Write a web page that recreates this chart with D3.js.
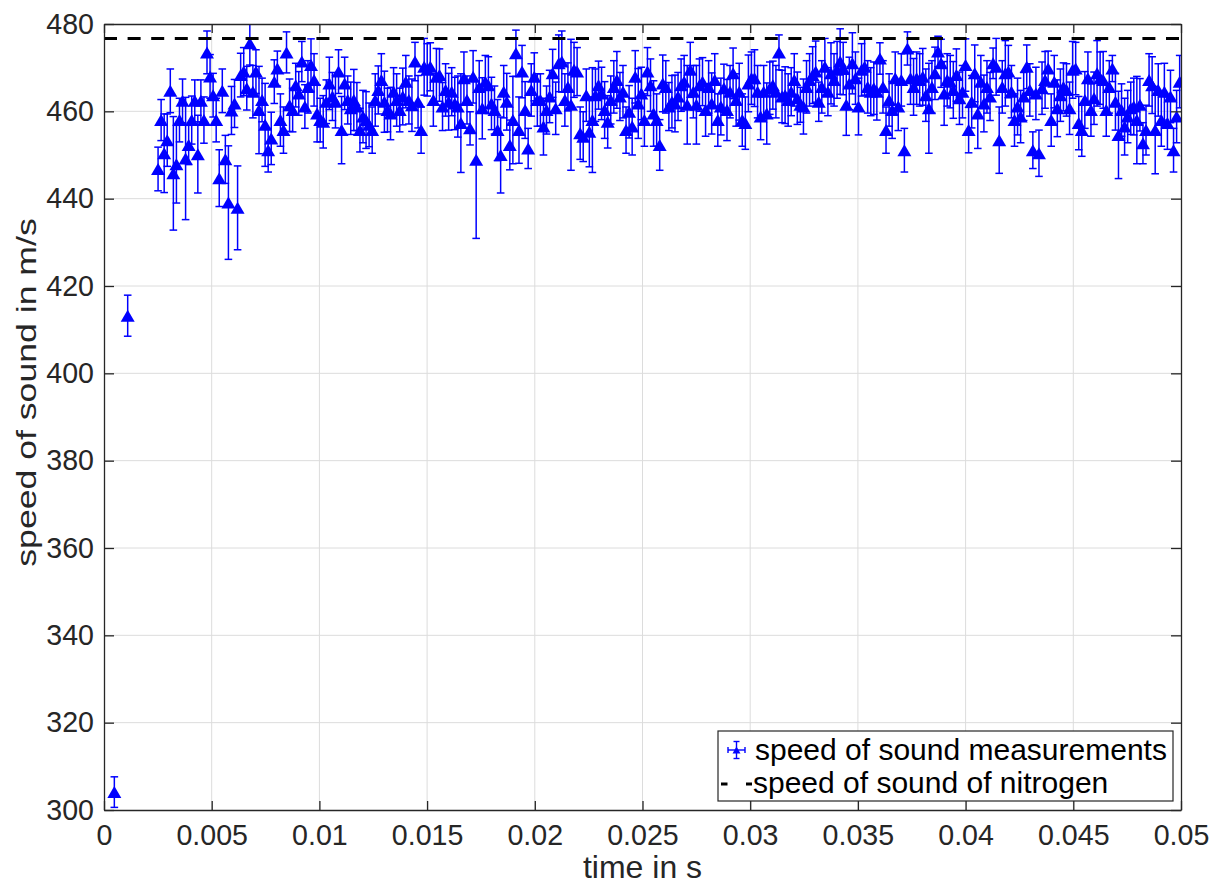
<!DOCTYPE html>
<html>
<head>
<meta charset="utf-8">
<script src="https://cdn.jsdelivr.net/npm/d3@7"></script>
<style>
html,body{margin:0;padding:0;background:#fff;}
svg{display:block;}
text{font-family:"Liberation Sans", Arial, Helvetica, sans-serif;}
</style>
</head>
<body>
<svg id="chart" width="1219" height="886"></svg>
<script>
// ---------------- data ----------------
const xDomain = [0, 0.05];
const yDomain = [300, 480];
const xTicks = [0, 0.005, 0.01, 0.015, 0.02, 0.025, 0.03, 0.035, 0.04, 0.045, 0.05];
const xTickLabels = ["0", "0.005", "0.01", "0.015", "0.02", "0.025", "0.03", "0.035", "0.04", "0.045", "0.05"];
const yTicks = [300, 320, 340, 360, 380, 400, 420, 440, 460, 480];
const yTickLabels = ["300", "320", "340", "360", "380", "400", "420", "440", "460", "480"];

const xLabel = "time in s";
const yLabel = "speed of sound in m/s";
const legendLabels = ["speed of sound measurements", "speed of sound of nitrogen"];

// first two (start-up) measurements
const earlyTimes = [0.00048, 0.0011];
const earlySpeeds = [304.1, 413.2];
const earlyErrors = [3.5, 4.7];

// regularly sampled measurements
const sampleStart = 0.00251;
const sampleStep = 0.000142;
const speeds = [
  446.8, 458.0, 450.4, 453.4, 464.7, 445.8, 447.9, 458.0, 462.4, 449.2,
  452.3, 458.0, 462.4, 450.2, 462.4, 458.0, 473.5, 468.0, 463.7, 458.0,
  444.7, 464.7, 449.0, 439.1, 460.2, 461.8, 437.9, 468.3, 469.1, 465.3,
  475.6, 464.5, 469.1, 460.3, 462.6, 456.9, 451.1, 453.8, 466.8, 469.8,
  458.0, 455.7, 473.5, 461.4, 460.3, 466.0, 464.1, 471.4, 461.1, 465.6,
  470.6, 467.2, 459.5, 458.0, 457.6, 462.2,

  466.4, 463.4, 462.2, 469.1, 455.7, 466.4, 462.6, 460.7, 462.6, 461.1,
  455.7, 458.8, 458.0, 456.9, 455.7, 462.6, 464.9, 467.2, 462.2, 460.3,
  459.5, 464.5, 462.6, 460.3, 463.4, 466.8, 462.6, 461.4, 471.4, 462.2,
  455.7, 470.2, 469.5, 470.2, 462.6, 467.9, 468.3, 461.1, 464.9, 462.2,
  464.5, 461.8, 461.1, 457.3, 467.6, 462.6, 456.1, 467.9, 448.9, 465.6,
  460.7, 466.8, 466.0, 461.8, 460.3, 455.7, 450.0, 464.5, 462.2, 452.3,
  458.0, 473.3, 455.7, 469.1, 460.3, 451.5, 464.9, 467.9, 462.6,

  462.6, 456.5, 460.3, 463.4, 468.7, 460.7, 471.0, 471.4, 462.6, 465.6,
  461.5, 469.5, 469.1, 455.0, 454.2, 463.7, 455.3, 458.0, 463.7, 466.0,
  464.1, 460.3, 457.6, 462.6, 465.6, 467.2, 463.4, 464.5, 455.7, 459.9,
  456.5, 467.9, 461.8, 464.1, 458.0, 469.1, 466.0, 459.5, 458.0, 452.3,
  466.4, 465.6, 461.1, 462.2, 461.8, 463.4, 466.0, 466.8, 461.5, 469.5,
  464.5, 461.5, 466.0, 466.8, 460.3, 465.6, 461.8, 467.2, 458.0, 461.1,
  465.3, 460.3, 464.5, 468.7, 462.6, 464.5, 458.0, 457.3, 466.4,

  467.6, 467.6, 464.5, 458.8, 464.5, 459.5, 465.3, 466.0, 464.5, 473.5,
  463.4, 463.7, 462.6, 464.5, 467.2, 463.0, 461.5, 461.1, 465.6, 467.2,
  468.3, 469.1, 462.2, 465.6, 470.2, 464.5, 468.7, 467.2, 469.5, 471.4,
  469.8, 461.5, 466.4, 471.0, 467.6, 461.1, 469.5, 470.2, 465.6, 464.5,
  465.3, 464.5, 472.1, 465.6, 455.7, 462.6, 460.3, 467.6, 461.1, 467.2,
  451.1, 474.4, 467.6, 465.6, 467.6, 467.2, 467.9, 463.7, 460.7, 465.6,
  468.7, 473.7, 471.0, 464.1, 467.2, 466.8, 464.9, 468.3, 463.0,

  464.5, 470.6, 455.7, 462.2, 468.7, 459.5, 466.8, 461.8, 465.6, 463.4,
  471.0, 470.2, 453.4, 465.6, 468.7, 469.1, 464.5, 458.0, 461.1, 458.8,
  463.4, 470.2, 464.9, 451.1, 464.1, 450.4, 465.3, 467.2, 469.8, 458.0,
  466.8, 460.7, 463.7, 465.6, 464.9, 460.7, 469.5, 469.8, 457.3, 455.7,
  462.6, 467.6, 460.3, 463.0, 468.7, 467.6, 467.2, 460.3, 465.6, 469.8,
  462.2, 454.6, 460.3, 456.5, 458.8, 460.7, 461.1, 458.0, 461.5, 452.7,
  455.7, 467.2, 466.0, 455.7, 464.9, 458.0, 464.5, 457.3, 463.4, 451.1,
  458.8, 466.8
];
const speedErrors = [
  5, 4.7, 9, 6, 5, 13, 8.9, 5, 5, 14,
  4.5, 5.5, 4.8, 8.9, 4.8, 5.3, 4.9, 5, 5, 5,
  6.5, 5, 5.5, 13, 5.5, 5.5, 9.6, 5, 5.5, 5,
  5, 6, 5, 10, 5, 9.5, 5, 6, 5, 4,
  6, 5.3, 4.7, 6, 5, 5, 5, 4.6, 5, 6,
  6, 6, 6.5, 5, 6, 5,

  6, 5.5, 6, 5, 7.7, 6, 5.5, 6, 7, 5.5,
  5, 6, 6.5, 5, 5.3, 6, 5.5, 6, 7, 5,
  6, 5.5, 6, 5, 6.5, 6, 5.5, 6, 4.4, 6,
  5.3, 6.5, 6, 5.5, 6, 6.5, 6, 5.5, 6, 6.5,
  5.5, 6, 7, 11.3, 6, 5.5, 3.8, 6, 18, 6,
  7, 6, 6.5, 6, 5.5, 7, 8.7, 6, 6.5, 5.7,
  10, 5.3, 7.6, 6, 6.5, 4.6, 6, 5.5, 6,

  6, 6.5, 5.5, 6, 5.5, 6, 6.5, 7, 6, 5.5,
  15, 6.3, 5.5, 6, 5.7, 6, 8, 12, 6, 5.5,
  6, 6.5, 6, 5.5, 6, 6.5, 5.5, 6, 5.3, 6,
  6.5, 6, 8, 6, 6, 5.5, 6, 7.5, 6, 5.8,
  6.5, 6, 5.5, 6, 6.5, 5.5, 6, 6, 9, 6.3,
  6, 9, 6, 5.5, 6, 6, 7, 6, 6, 6.5,
  5.5, 7, 6, 5.8, 6, 6.5, 6, 6, 6.5,

  6, 6.5, 6, 5.3, 6, 7, 6, 5.5, 6, 4,
  6, 6.5, 6, 5.5, 6, 6, 4, 6.3, 6, 6,
  6.5, 7, 4.5, 6, 6.5, 5.5, 7, 6, 6.5, 7.5,
  6, 7, 6, 7, 6, 6.5, 6, 6.5, 6, 5.5,
  6, 6.5, 3.6, 6, 5.3, 6, 6.5, 6, 5.5, 6,
  5, 3.8, 6, 6.5, 6, 6, 6.5, 6, 10.3, 6,
  6, 3.5, 5.5, 7.3, 6, 6, 6.5, 6, 6,

  6, 6, 5.2, 6, 6.5, 8, 6, 6.5, 6, 5.5,
  3.5, 6.5, 7.6, 6, 7.5, 6, 6, 6, 6.5, 6,
  5.5, 5, 6, 4.2, 6, 5.3, 6, 6.5, 4, 6,
  6, 6.5, 6, 5.5, 6, 6, 6.5, 6, 6.1, 6,
  6.5, 6, 6, 6, 7.5, 6, 6.5, 6, 6, 3,
  6.5, 10, 6, 6.5, 6, 6, 6.5, 10, 6, 4.7,
  5.7, 6, 6.5, 10, 6, 6, 6.5, 6, 6, 5,
  6, 6
];

const nitrogenSpeed = 476.7;

// ---------------- drawing ----------------
const FONT = '"Liberation Sans", Arial, Helvetica, sans-serif';
const AX = '#262626';
const BLUE = '#0000ff';
const plot = {left: 104, top: 24, right: 1181, bottom: 810};

const svg = d3.select('#chart');
svg.append('rect').attr('width', 1219).attr('height', 886).attr('fill', '#fff');

const x = d3.scaleLinear().domain(xDomain).range([plot.left, plot.right]);
const y = d3.scaleLinear().domain(yDomain).range([plot.bottom, plot.top]);

svg.append('defs').append('clipPath').attr('id', 'clip')
  .append('rect').attr('x', plot.left).attr('y', plot.top)
  .attr('width', plot.right - plot.left).attr('height', plot.bottom - plot.top);

// grid
const grid = svg.append('g').attr('stroke', '#dcdcdc').attr('stroke-width', 1);
grid.selectAll('line.gx').data(xTicks.slice(1, -1)).join('line').attr('class', 'gx')
  .attr('x1', d => x(d)).attr('x2', d => x(d)).attr('y1', plot.top).attr('y2', plot.bottom);
grid.selectAll('line.gy').data(yTicks.slice(1, -1)).join('line').attr('class', 'gy')
  .attr('y1', d => y(d)).attr('y2', d => y(d)).attr('x1', plot.left).attr('x2', plot.right);

// data points
const points = earlyTimes.map((t, i) => ({t: t, v: earlySpeeds[i], e: earlyErrors[i]}))
  .concat(speeds.map((v, i) => ({t: sampleStart + i * sampleStep, v: v, e: speedErrors[i]})));

const dg = svg.append('g').attr('clip-path', 'url(#clip)');
const bars = dg.append('g').attr('stroke', BLUE).attr('stroke-width', 1.5).attr('fill', 'none');
bars.selectAll('line.v').data(points).join('line').attr('class', 'v')
  .attr('x1', d => x(d.t)).attr('x2', d => x(d.t))
  .attr('y1', d => y(d.v - d.e)).attr('y2', d => y(d.v + d.e));
bars.selectAll('line.ct').data(points).join('line').attr('class', 'ct')
  .attr('x1', d => x(d.t) - 3.8).attr('x2', d => x(d.t) + 3.8)
  .attr('y1', d => y(d.v + d.e)).attr('y2', d => y(d.v + d.e));
bars.selectAll('line.cb').data(points).join('line').attr('class', 'cb')
  .attr('x1', d => x(d.t) - 3.8).attr('x2', d => x(d.t) + 3.8)
  .attr('y1', d => y(d.v - d.e)).attr('y2', d => y(d.v - d.e));
dg.append('g').selectAll('path').data(points).join('path')
  .attr('transform', d => `translate(${x(d.t)},${y(d.v)})`)
  .attr('d', 'M-7,6L7,6L0,-6Z')
  .attr('fill', BLUE);

// reference line
svg.append('line')
  .attr('x1', x(xDomain[0])).attr('x2', x(xDomain[1]))
  .attr('y1', y(nitrogenSpeed)).attr('y2', y(nitrogenSpeed))
  .attr('stroke', '#000').attr('stroke-width', 3)
  .attr('stroke-dasharray', '13,10.6');

// axes
function styleAxis(g) {
  g.attr('font-family', null).attr('font-size', null);
  g.select('.domain').attr('stroke', AX).attr('stroke-width', 1.3);
  g.selectAll('.tick line').attr('stroke', AX).attr('stroke-width', 1.3);
  g.selectAll('.tick text')
    .style('font-family', FONT).style('font-size', '28.6px').attr('fill', AX);
}
svg.append('g').attr('transform', `translate(0,${plot.bottom})`)
  .call(d3.axisBottom(x).tickValues(xTicks).tickFormat((d, i) => xTickLabels[i])
    .tickSizeInner(-9).tickSizeOuter(0).tickPadding(15))
  .call(styleAxis);
svg.append('g').attr('transform', `translate(0,${plot.top})`)
  .call(d3.axisTop(x).tickValues(xTicks).tickFormat(() => '')
    .tickSizeInner(-9).tickSizeOuter(0))
  .call(styleAxis);
svg.append('g').attr('transform', `translate(${plot.left},0)`)
  .call(d3.axisLeft(y).tickValues(yTicks).tickFormat((d, i) => yTickLabels[i])
    .tickSizeInner(-10).tickSizeOuter(0).tickPadding(10))
  .call(styleAxis);
svg.append('g').attr('transform', `translate(${plot.right},0)`)
  .call(d3.axisRight(y).tickValues(yTicks).tickFormat(() => '')
    .tickSizeInner(-10).tickSizeOuter(0))
  .call(styleAxis);

// axis labels
svg.append('text')
  .attr('x', (plot.left + plot.right) / 2).attr('y', 878)
  .attr('text-anchor', 'middle').attr('fill', AX)
  .style('font-family', FONT).style('font-size', '32px')
  .text(xLabel);
svg.append('text')
  .attr('transform', 'translate(36,392.5) rotate(-90) scale(1.25,1)')
  .attr('text-anchor', 'middle').attr('fill', AX)
  .style('font-family', FONT).style('font-size', '28.5px')
  .text(yLabel);

// legend
const lg = svg.append('g');
lg.append('rect').attr('x', 718).attr('y', 731).attr('width', 455).attr('height', 70)
  .attr('fill', '#fff').attr('stroke', AX).attr('stroke-width', 1.2);
const ic = lg.append('g').attr('transform', 'translate(736.5,750)');
ic.append('g').attr('stroke', BLUE).attr('stroke-width', 1.4).selectAll('line')
  .data([[0, -8.5, 0, 8.5], [-3, -8.5, 3, -8.5], [-3, 8.5, 3, 8.5],
         [-8.5, 0, 8.5, 0], [-8.5, -3, -8.5, 3], [8.5, -3, 8.5, 3]])
  .join('line')
  .attr('x1', d => d[0]).attr('y1', d => d[1]).attr('x2', d => d[2]).attr('y2', d => d[3]);
ic.append('path').attr('d', 'M-4,3.5L4,3.5L0,-3.5Z').attr('fill', BLUE);
lg.append('line').attr('x1', 721).attr('x2', 752).attr('y1', 784).attr('y2', 784)
  .attr('stroke', '#000').attr('stroke-width', 3).attr('stroke-dasharray', '6.5,18.5');
lg.selectAll('text').data(legendLabels).join('text')
  .attr('x', (d, i) => i === 0 ? 755 : 753)
  .attr('y', (d, i) => i === 0 ? 760 : 793)
  .attr('fill', '#000')
  .style('font-family', FONT).style('font-size', '30px')
  .text(d => d);
</script>
</body>
</html>
